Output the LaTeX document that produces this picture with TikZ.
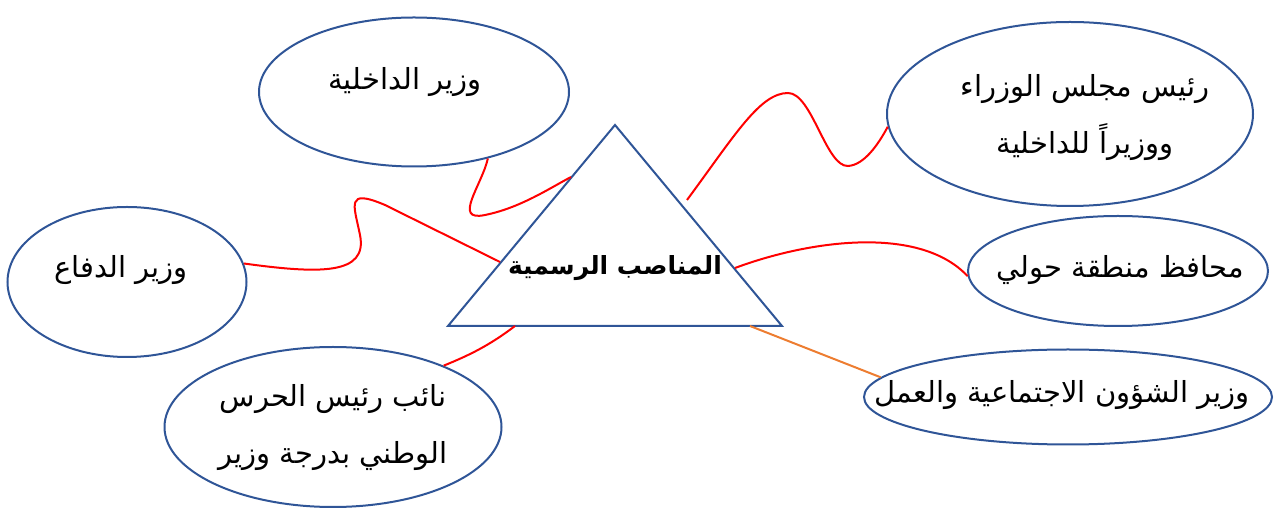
\documentclass[tikz,border=0pt]{standalone}
\usepackage{fontspec}
\TeXXeTstate=1
\newfontfamily\arabicfont[Script=Arabic]{DejaVu Sans}
\usetikzlibrary{shapes.geometric}
\definecolor{oblue}{HTML}{2F5597}
\definecolor{oorange}{HTML}{ED7D31}
\begin{document}
\begin{tikzpicture}[x=0.5pt,y=-0.5pt,
  bub/.style={ellipse,draw=oblue,line width=1pt,inner sep=0pt},
  txt/.style={inner sep=0pt,align=center,
    font=\arabicfont\fontsize{14.5}{28.5}\selectfont},
  link/.style={draw=red,line width=1pt},
  olink/.style={draw=oorange,line width=1pt},
  tri/.style={draw=oblue,line width=1pt,line join=miter}]
\useasboundingbox (0,0) rectangle (1280,512);
% ellipses
\node[bub,minimum width=155pt,minimum height=74.5pt] (nA) at (414,92) {};
\node[bub,minimum width=119.5pt,minimum height=75pt] (nB) at (127,282) {};
\node[bub,minimum width=168.5pt,minimum height=80pt] (nC) at (333,427) {};
\node[bub,minimum width=183pt,minimum height=92pt] (nD) at (1070,114) {};
\node[bub,minimum width=150pt,minimum height=55pt] (nE) at (1118,271) {};
\node[bub,minimum width=204pt,minimum height=47.5pt] (nF) at (1068,397) {};
% texts
\node[txt] (xA) at (405,82) {\beginR وزير الداخلية\endR};
\node[txt] (xB) at (121,270) {\beginR وزير الدفاع\endR};
\node[txt] (xC) at (333,428) {\beginR نائب رئيس الحرس\endR\\\beginR الوطني بدرجة وزير\endR};
\node[txt] (xD) at (1085,118) {\beginR رئيس مجلس الوزراء\endR\\\beginR ووزيراً للداخلية\endR};
\node[txt] (xE) at (1120,270) {\beginR محافظ منطقة حولي\endR};
\node[txt] (xF) at (1062,395) {\beginR وزير الشؤون الاجتماعية والعمل\endR};
% triangle
\coordinate (apex) at (615,125);
\coordinate (bl) at (448,326);
\coordinate (br) at (782,326);
\draw[tri] (apex) -- (bl) -- (br) -- cycle;
\node[inner sep=0pt,font=\arabicfont\bfseries\fontsize{12.5}{15}\selectfont] (title) at (615,268) {\beginR المناصب الرسمية\endR};
% connector points on triangle
\coordinate (t1) at (687,200);
\coordinate (t2) at (735,268);
\coordinate (t3) at (750,326);
\coordinate (t4) at (515,326);
\coordinate (t5) at (571,177);
\coordinate (t6) at (500,262);
% connectors
\draw[link] (t1) .. controls (735,135) and (760,93) .. (788,93) .. controls (812,93) and (826,167) .. (848,166) .. controls (864,165) and (878,145) .. (nD.184);
\draw[link] (t2) .. controls (810,240) and (920,225) .. (nE.182);
\draw[olink] (t3) -- (nF.174);
\draw[link] (t4) .. controls (490,345) and (470,355) .. (nC.29);
\draw[link] (nA.-42) .. controls (482,185) and (452,222) .. (485,215) .. controls (520,208) and (550,188) .. (t5);
\draw[link] (nB.9) .. controls (320,274) and (368,275) .. (360,235) .. controls (354,205) and (345,188) .. (385,205) -- (t6);
\end{tikzpicture}
\end{document}
